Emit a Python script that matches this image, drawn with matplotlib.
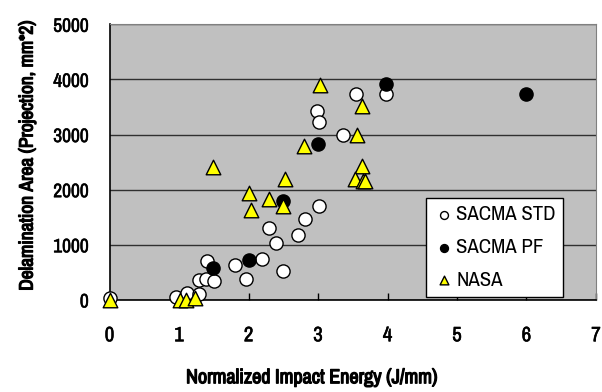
import matplotlib
matplotlib.use('Agg')
import matplotlib.pyplot as plt
import matplotlib.patheffects as pe

plt.rcParams['font.family'] = ['Archivo Narrow', 'Liberation Sans', 'DejaVu Sans']

# SACMA STD (open circles)
std_x = [0.0, 0.96, 1.11, 1.29, 1.29, 1.39, 1.51, 1.40, 1.81, 1.97, 2.20, 2.50,
         2.40, 2.29, 2.71, 2.81, 3.02, 2.98, 3.02, 3.36, 3.55, 3.98]
std_y = [30, 50, 130, 100, 360, 375, 345, 710, 625, 380, 750, 515,
         1040, 1300, 1175, 1467, 1697, 3418, 3230, 2994, 3727, 3727]

# SACMA PF (filled circles)
pf_x = [1.49, 2.00, 2.49, 3.00, 3.98, 5.99]
pf_y = [575, 727, 1788, 2836, 3921, 3727]

# NASA (yellow triangles)
nasa_x = [0.0, 1.01, 1.10, 1.23, 2.01, 2.03, 2.30, 2.50, 2.53, 1.49, 2.80, 3.03,
          3.63, 3.56, 3.63, 3.53, 3.65, 3.68]
nasa_y = [0, 0, 0, 40, 1940, 1624, 1830, 1697, 2200, 2406, 2788, 3890,
          3515, 3000, 2424, 2200, 2164, 2150]

x_ticks = [0, 1, 2, 3, 4, 5, 6, 7]
y_ticks = [0, 1000, 2000, 3000, 4000, 5000]

fig = plt.figure(figsize=(6.02, 3.92), dpi=100)
ax = fig.add_axes([0.182, 0.235, 0.808, 0.703])
ax.set_facecolor('#c0c0c0')

ax.scatter(std_x, std_y, s=90, marker='o', facecolor='white', edgecolor='black',
           linewidth=1, zorder=3, clip_on=False, label='SACMA STD')
ax.scatter(pf_x, pf_y, s=90, marker='o', facecolor='black', edgecolor='black',
           linewidth=1, zorder=3, clip_on=False, label='SACMA PF')
ax.scatter(nasa_x, nasa_y, s=110, marker='^', facecolor='#ffff00', edgecolor='black',
           linewidth=1, zorder=4, clip_on=False, label='NASA')

ax.set_xlim(0, 7)
ax.set_ylim(0, 5000)
ax.set_xticks(x_ticks)
ax.set_yticks(y_ticks)
ax.yaxis.grid(True, color='#303030', linewidth=1)
ax.set_axisbelow(True)
ax.tick_params(axis='x', direction='in', length=5, width=1, pad=19, labelsize=15)
ax.tick_params(axis='y', direction='out', length=0, pad=15, labelsize=14)

# fake a bolder weight, the narrow face has only one
thin = [pe.withStroke(linewidth=0.4, foreground='black')]
thick = [pe.withStroke(linewidth=0.9, foreground='black')]
for lab in ax.get_xticklabels() + ax.get_yticklabels():
    lab.set_path_effects(thin)

for s in ['top', 'right']:
    ax.spines[s].set_color('#808080')
for s in ['left', 'bottom']:
    ax.spines[s].set_color('black')
    ax.spines[s].set_linewidth(1.2)

xl = ax.set_xlabel('Normalized Impact Energy (J/mm)', fontsize=14.5)
yl = ax.set_ylabel('Delamination Area (Projection, mm*2)', fontsize=14)
xl.set_path_effects(thick)
yl.set_path_effects(thick)
ax.xaxis.set_label_coords(0.416, -0.248)
ax.yaxis.set_label_coords(-0.15, 0.523)

leg = ax.legend(loc='lower right', bbox_to_anchor=(0.932, 0.011), borderaxespad=0,
                fontsize=15, frameon=True, fancybox=False, framealpha=1, edgecolor='black',
                borderpad=0.35, handletextpad=0.1, labelspacing=0.65, handlelength=1.0,
                markerscale=0.6)
leg.get_frame().set_linewidth(1)

fig.savefig('out.png', dpi=100)
